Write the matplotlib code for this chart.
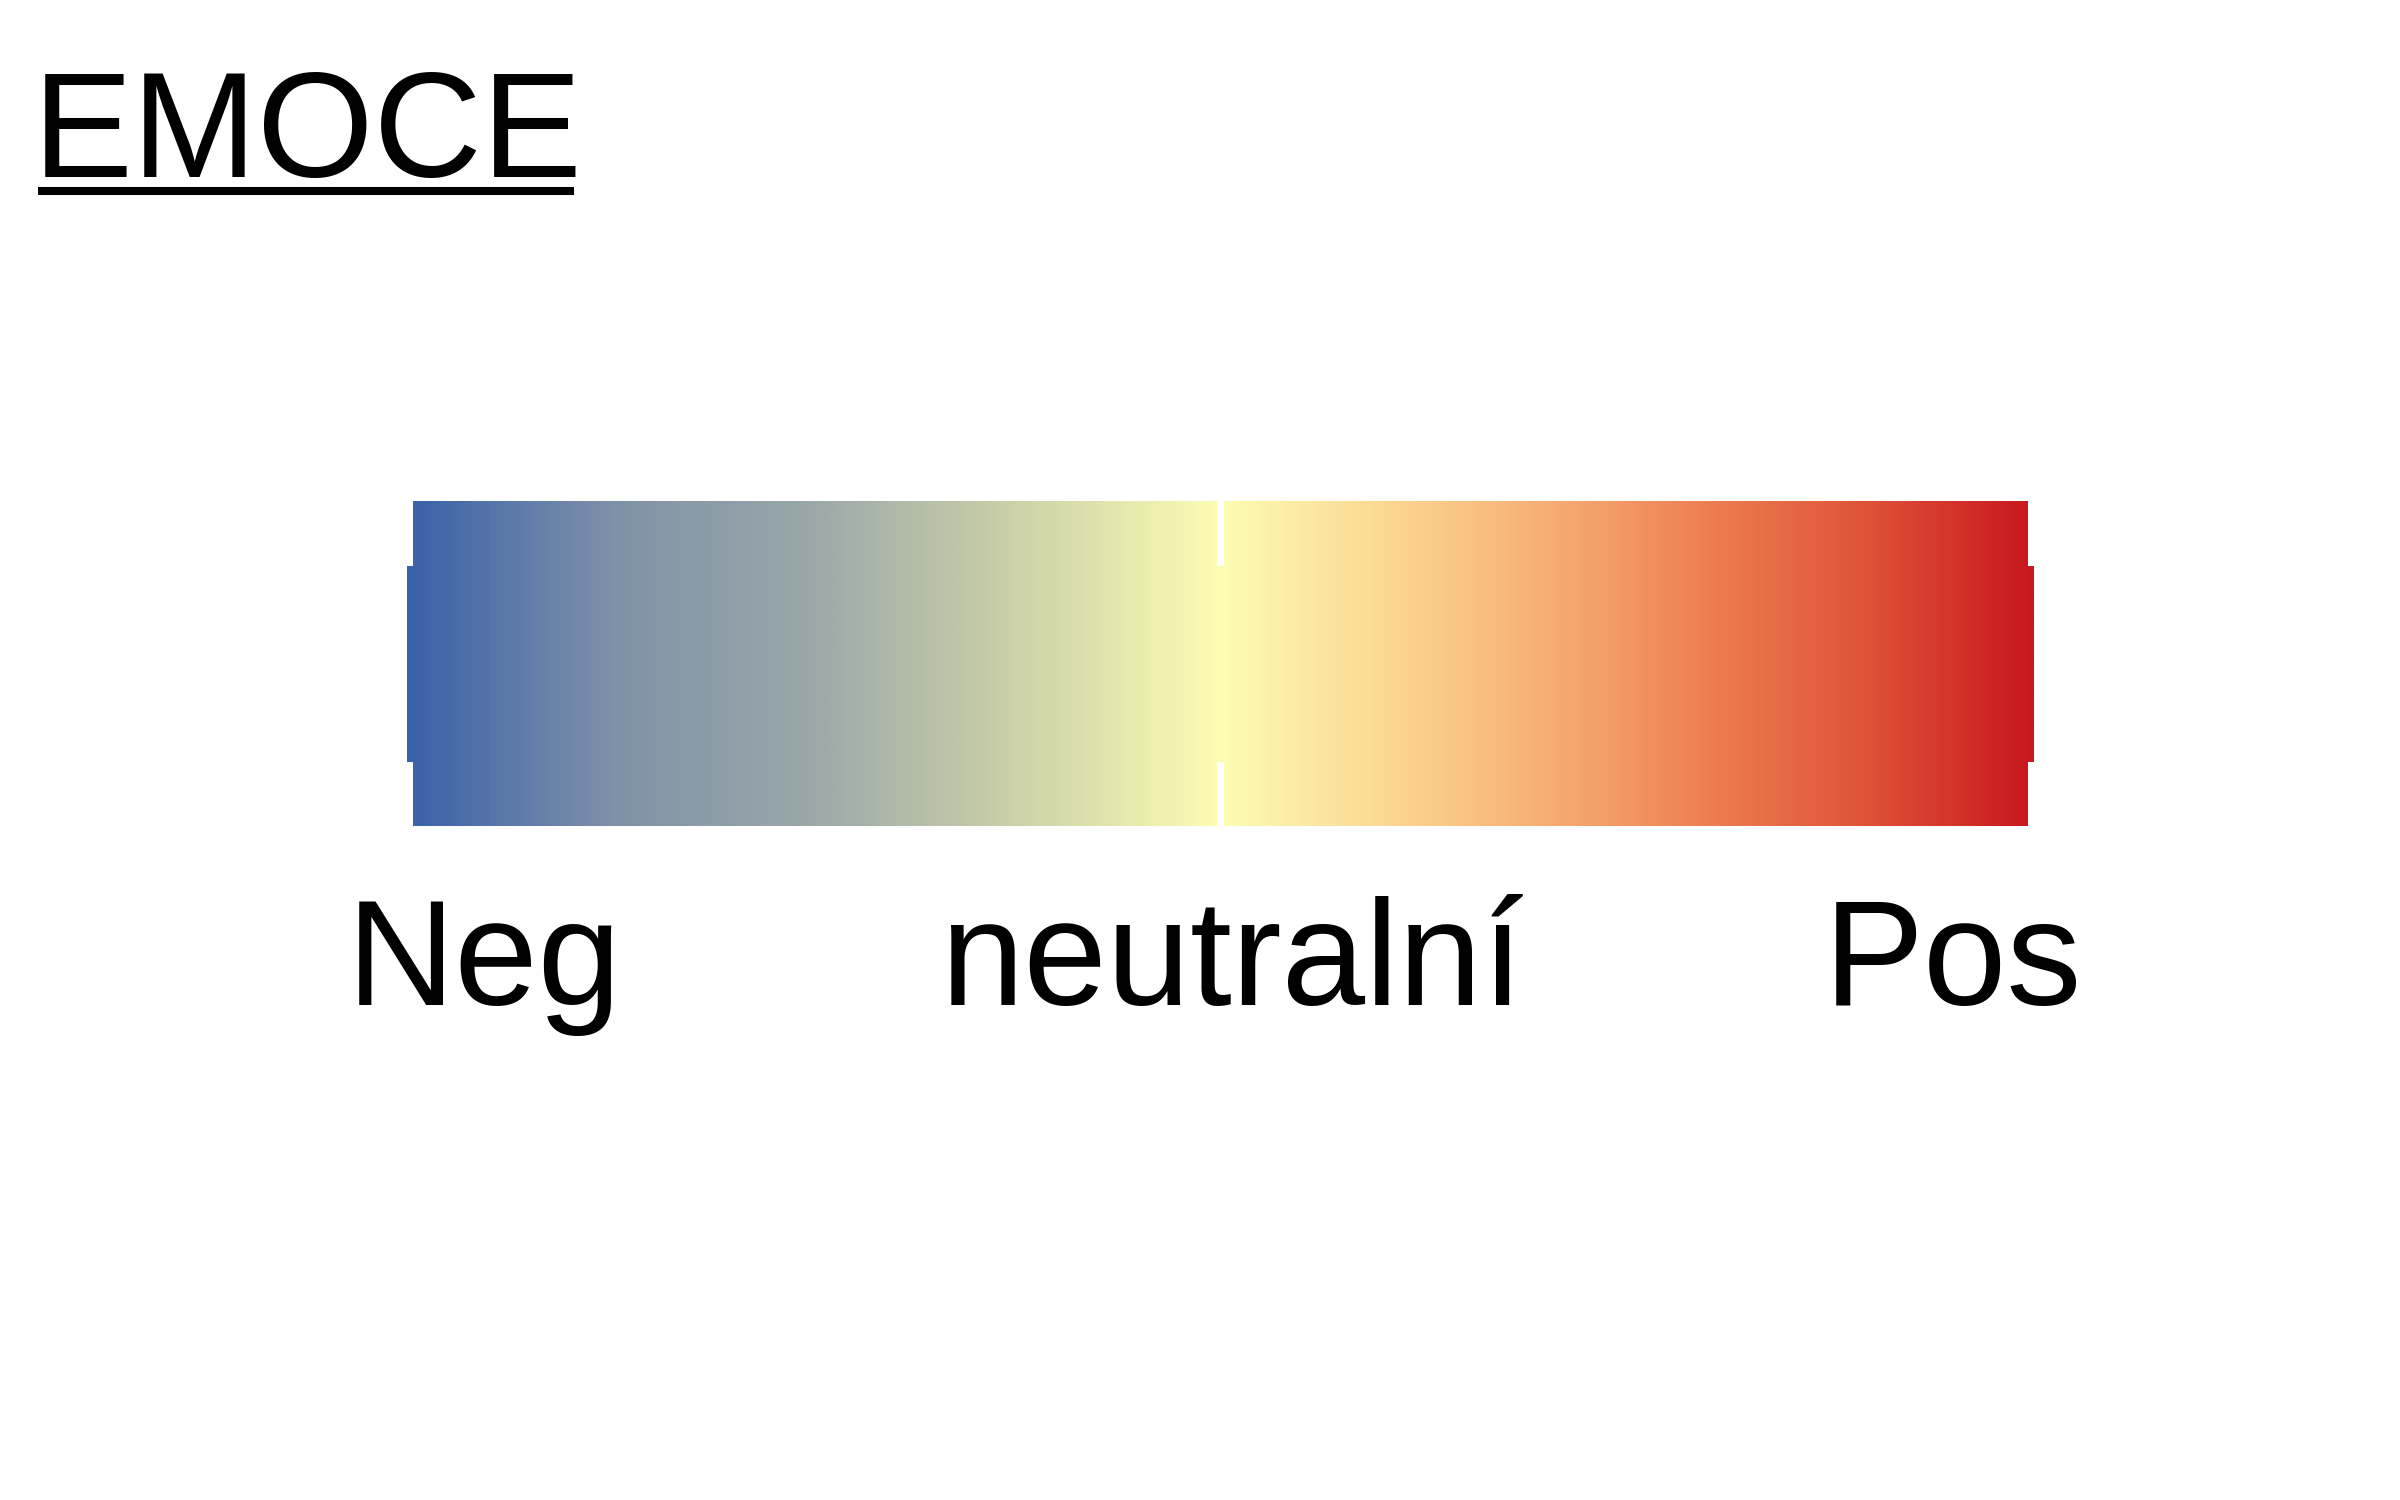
import numpy as np
import matplotlib
matplotlib.use("Agg")
import matplotlib.pyplot as plt
from matplotlib.colors import LinearSegmentedColormap
from matplotlib.patches import Rectangle
from matplotlib.lines import Line2D

title = "EMOCE"
labels = ["Neg", "neutralní", "Pos"]
label_pos = [-0.905, 0.014, 0.9]

# colour stops, -1 .. 1
stop_pos = [-1.0, -0.75, -0.5, -0.25, 0.0, 0.25, 0.45, 0.6, 0.8, 1.0]
stop_col = ["#3a62a8", "#7f91a9", "#9ba9a8", "#cdd2a8", "#fdfdb3",
            "#fbcf8b", "#f5a36d", "#ed7f52", "#df5238", "#c8181e"]

cmap = LinearSegmentedColormap.from_list(
    "emoce", list(zip([(p + 1) / 2 for p in stop_pos], stop_col)))

fig = plt.figure(figsize=(24, 15), dpi=100)
fig.patch.set_facecolor("white")

ax = fig.add_axes([407 / 2400, (1500 - 826) / 1500, 1627 / 2400, 325 / 1500])
grad = np.linspace(-1, 1, 1000).reshape(1, -1)
ax.imshow(grad, cmap=cmap, vmin=-1, vmax=1, extent=(-1, 1, 0, 1),
          aspect="auto", interpolation="bilinear")
ax.set_xlim(-1, 1)
ax.set_ylim(0, 1)
ax.axis("off")

# little tabs at the ends and the gap in the middle
tab = 0.0074
lo, hi = 0.197, 0.8
for x0 in (-1, 1 - tab):
    ax.add_patch(Rectangle((x0, 0), tab, lo, color="white", lw=0))
    ax.add_patch(Rectangle((x0, hi), tab, 1 - hi, color="white", lw=0))
gap = 0.0043
ax.add_patch(Rectangle((-gap, 0), 2 * gap, lo, color="white", lw=0))
ax.add_patch(Rectangle((-gap, hi), 2 * gap, 1 - hi, color="white", lw=0))

for x, lab in zip(label_pos, labels):
    ax.text(x, -0.551, lab, transform=ax.get_xaxis_transform(),
            ha="center", va="baseline", fontsize=108,
            family=["Liberation Sans", "DejaVu Sans"], color="black",
            clip_on=False)

fig.text(33 / 2400, (1500 - 177) / 1500, title, ha="left", va="baseline",
         fontsize=108, family=["Liberation Sans", "DejaVu Sans"],
         color="black")
fig.add_artist(Line2D([38 / 2400, 574 / 2400],
                      [(1500 - 191) / 1500, (1500 - 191) / 1500],
                      color="black", lw=5.8, solid_capstyle="butt"))

fig.savefig("out.png", dpi=100, facecolor="white")
